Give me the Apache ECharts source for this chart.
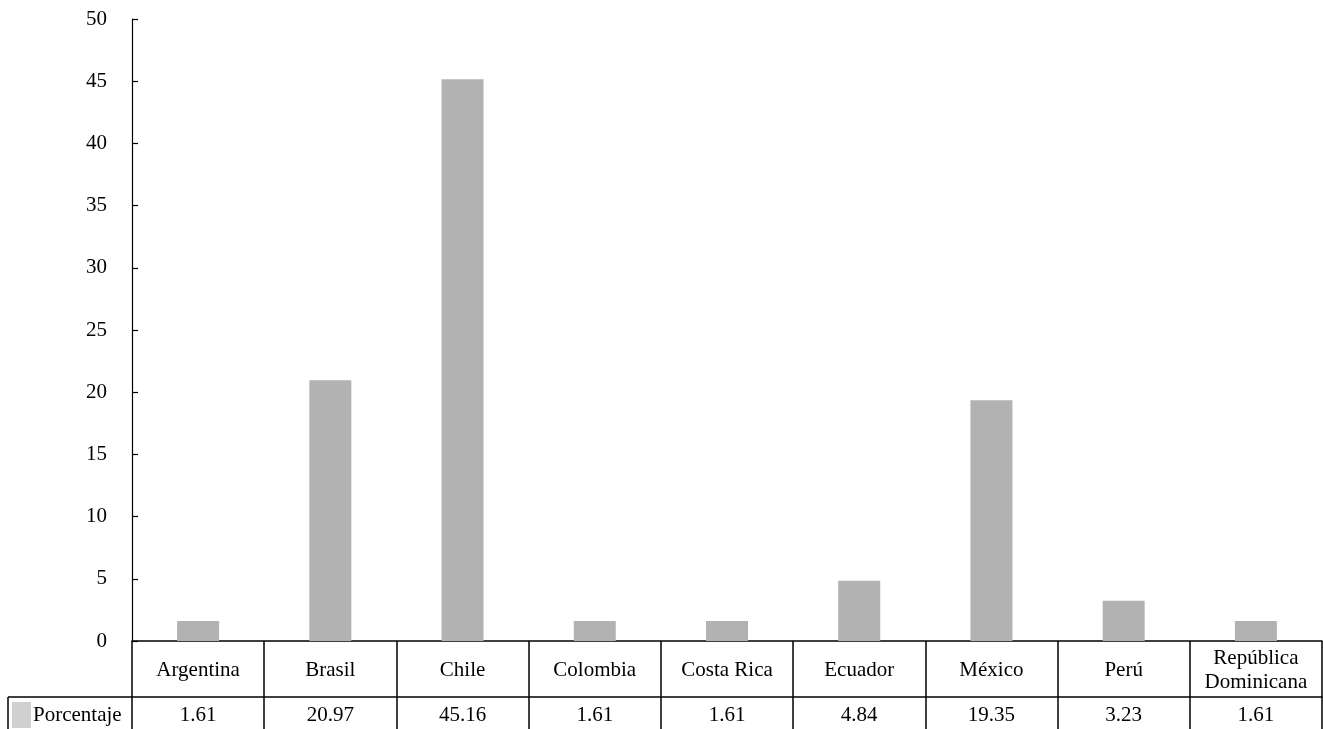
<!DOCTYPE html>
<html>
<head>
<meta charset="utf-8">
<script src="https://cdn.jsdelivr.net/npm/echarts@6/dist/echarts.min.js"></script>
<style>html,body{margin:0;padding:0;background:#fff}#c{width:1323px;height:729px}</style>
</head>
<body>
<div id="c"></div>
<script>
var categories = ['Argentina', 'Brasil', 'Chile', 'Colombia', 'Costa Rica', 'Ecuador', 'México', 'Perú', 'República\nDominicana'];
var values = [1.61, 20.97, 45.16, 1.61, 1.61, 4.84, 19.35, 3.23, 1.61];
var seriesName = 'Porcentaje';
var yTicks = { min: 0, max: 50, interval: 5 };

var FONT = '"Liberation Serif", "Times New Roman", serif';
var chart = echarts.init(document.getElementById('c'), null, { renderer: 'canvas' });
chart.setOption({
  animation: false,
  backgroundColor: '#fff',
  textStyle: { fontFamily: FONT, color: '#000' },
  grid: { left: 132, right: 1, top: 19, bottom: 88, containLabel: false },
  legend: {
    left: 12, top: 702, padding: 0,
    itemWidth: 19, itemHeight: 26, itemGap: 0,
    textStyle: { fontFamily: FONT, fontSize: 21, color: '#000', padding: [0, 0, 0, -3] },
    data: [{ name: seriesName, icon: 'rect', itemStyle: { color: '#d0d0d0' } }]
  },
  xAxis: [{
    type: 'category',
    data: categories,
    axisLine: { show: true, lineStyle: { color: '#000', width: 1.5 } },
    axisTick: { show: true, interval: 0, length: 56, lineStyle: { color: '#000', width: 1.5 } },
    axisLabel: { interval: 0, margin: 29, verticalAlign: 'middle', fontFamily: FONT, fontSize: 21, lineHeight: 24, color: '#000' }
  }, {
    type: 'category',
    position: 'bottom',
    offset: 56,
    data: values.map(function (v) { return v.toFixed(2); }),
    axisLine: { show: true, lineStyle: { color: '#000', width: 1.5 } },
    axisTick: { show: true, interval: 0, length: 32, lineStyle: { color: '#000', width: 1.5 } },
    axisLabel: { interval: 0, margin: 18, verticalAlign: 'middle', fontFamily: FONT, fontSize: 21, color: '#000' }
  }],
  yAxis: {
    type: 'value',
    min: yTicks.min, max: yTicks.max, interval: yTicks.interval,
    axisLine: { show: true, lineStyle: { color: '#000', width: 1.2 } },
    axisTick: { show: true, inside: true, length: 6, lineStyle: { color: '#000', width: 1.2 } },
    splitLine: { show: false },
    axisLabel: { margin: 25, fontFamily: FONT, fontSize: 21, color: '#000' }
  },
  series: [{
    name: seriesName,
    type: 'bar',
    xAxisIndex: 0,
    data: values,
    barWidth: 42,
    itemStyle: { color: '#b2b2b2' }
  }],
  graphic: [
    { type: 'line', shape: { x1: 8, y1: 697, x2: 132, y2: 697 }, style: { stroke: '#000', lineWidth: 1.5 } },
    { type: 'line', shape: { x1: 8, y1: 697, x2: 8, y2: 729 }, style: { stroke: '#000', lineWidth: 1.5 } }
  ]
});
</script>
</body>
</html>
